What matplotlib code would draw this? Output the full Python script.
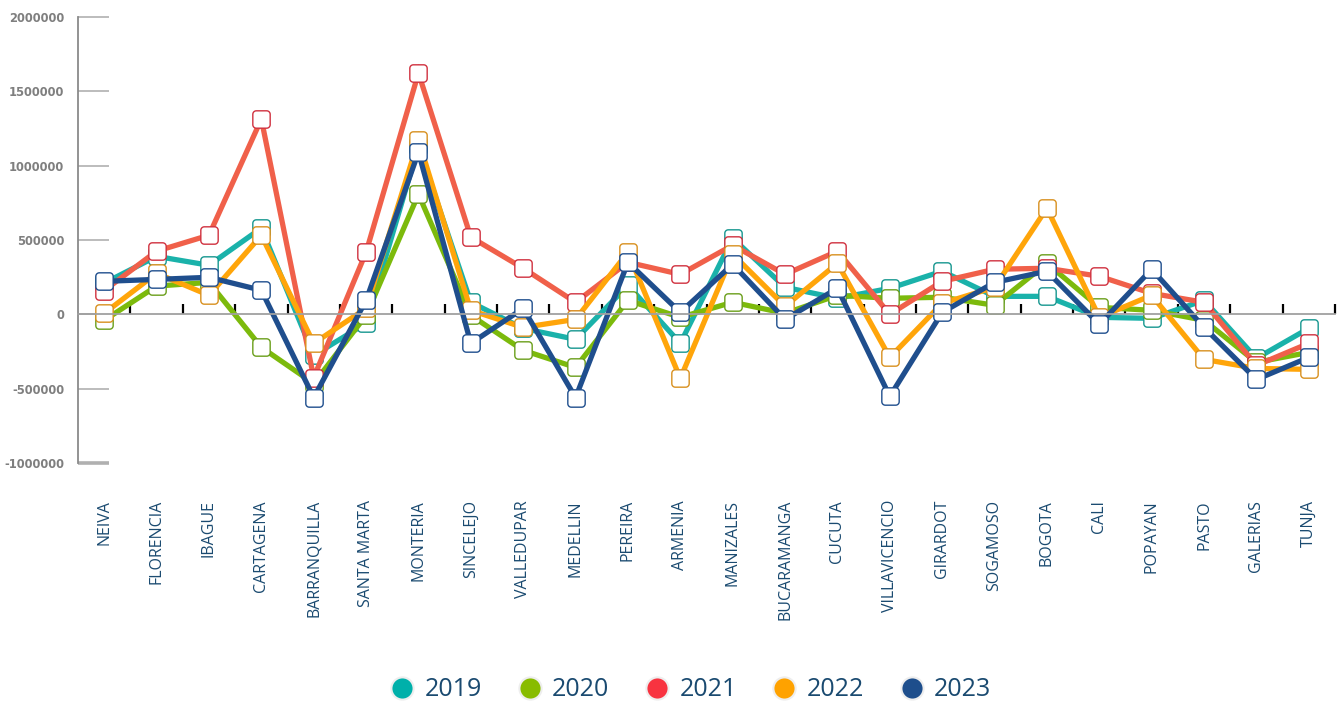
import numpy as np
import matplotlib
matplotlib.use("Agg")
import matplotlib.pyplot as plt
from matplotlib import font_manager
from matplotlib.path import Path
from matplotlib.lines import Line2D
from matplotlib.transforms import blended_transform_factory

ciudades = ["NEIVA", "FLORENCIA", "IBAGUE", "CARTAGENA", "BARRANQUILLA", "SANTA MARTA",
            "MONTERIA", "SINCELEJO", "VALLEDUPAR", "MEDELLIN", "PEREIRA", "ARMENIA",
            "MANIZALES", "BUCARAMANGA", "CUCUTA", "VILLAVICENCIO", "GIRARDOT", "SOGAMOSO",
            "BOGOTA", "CALI", "POPAYAN", "PASTO", "GALERIAS", "TUNJA"]

v2019 = [210000, 390000, 330000, 580000, -276000, -60000, 1130000, 81000, -95000, -168000,
         195000, -195000, 512000, 182000, 108000, 175000, 290000, 121000, 121000, -20000,
         -27000, 94000, -296000, -94000]
v2020 = [-40000, 190000, 215000, -222000, -465000, -7000, 808000, -7000, -242000, -357000,
         94000, -20000, 81000, 7000, 128000, 108000, 115000, 61000, 343000, 47000,
         27000, -40000, -323000, -256000]
v2021 = [160000, 425000, 532000, 1313000, -425000, 418000, 1623000, 519000, 310000, 81000,
         350000, 269000, 465000, 269000, 425000, 0, 222000, 303000, 310000, 256000,
         141000, 81000, -343000, -195000]
v2022 = [7000, 276000, 128000, 532000, -195000, 40000, 1172000, 27000, -88000, -34000,
         418000, -431000, 404000, 54000, 343000, -290000, 74000, 182000, 714000, -20000,
         128000, -303000, -364000, -370000]
v2023 = [222000, 235000, 249000, 162000, -560000, 94000, 1091000, -195000, 40000, -560000,
         350000, 13000, 337000, -34000, 175000, -552000, 13000, 215000, 290000, -67000,
         303000, -88000, -438000, -290000]

anios = ["2019", "2020", "2021", "2022", "2023"]
series = [v2019, v2020, v2021, v2022, v2023]
color_linea = ["#1ab2aa", "#7cba0c", "#f0604a", "#ffa50a", "#1f4e8d"]
color_borde = ["#15968f", "#6a9e1a", "#d0303e", "#d8901e", "#1f4e8d"]
color_leyenda = ["#00b0aa", "#88bc00", "#f83340", "#ffa200", "#1e4e8c"]
azul_texto = "#1a4a70"

# narrow bold face for the y labels, whichever is available
fuentes = {f.name: f for f in font_manager.fontManager.ttflist}
estrechas = [f for f in font_manager.fontManager.ttflist
             if f.name == "DejaVu Sans" and f.stretch in ("condensed", "semi-condensed")]
if "Liberation Sans Narrow" in fuentes:
    fuente_y = dict(family="Liberation Sans Narrow", fontsize=11.5, fontweight="bold")
elif estrechas:
    fuente_y = dict(family="DejaVu Sans", fontstretch="condensed", fontsize=9.2, fontweight="bold")
else:
    fuente_y = dict(family="Roboto", fontsize=9, fontweight="bold")


def cuadro_redondeado(r=0.4, n=8):
    # square marker with rounded corners
    pts = []
    for cx, cy, a0 in [(1 - r, 1 - r, 0), (-1 + r, 1 - r, 90), (-1 + r, -1 + r, 180), (1 - r, -1 + r, 270)]:
        for t in np.radians(np.linspace(a0, a0 + 90, n)):
            pts.append((cx + r * np.cos(t), cy + r * np.sin(t)))
    pts.append(pts[0])
    return Path(pts, closed=True)


marcador = cuadro_redondeado()

fig = plt.figure(figsize=(13.41, 7.04), dpi=100)
ax = fig.add_axes([0.0582, 0.3423, 0.9373, 0.6336])

x = np.arange(len(ciudades))
for vals, cl, cb in zip(series, color_linea, color_borde):
    ax.plot(x, vals, color=cl, lw=3.8, marker=marcador, markersize=12.5,
            markerfacecolor="white", markeredgecolor=cb, markeredgewidth=1.0,
            solid_joinstyle="miter", clip_on=False)

ax.set_xlim(-0.5, len(ciudades) - 0.5)
ax.set_ylim(-1000000, 2000000)

# y axis: inward grey ticks, black at the bottom
ax.set_yticks(np.arange(-1000000, 2000001, 500000))
ax.set_yticklabels([str(v) for v in range(-1000000, 2000001, 500000)],
                   color="#7f7f7f", **fuente_y)
ax.tick_params(axis="y", direction="in", length=22, width=1.2, color="#b0b0b0", pad=10)
t0 = ax.yaxis.get_major_ticks()[0]
t0.tick1line.set_color("black")
t0.tick1line.set_markeredgewidth(2.6)

# x axis sits on zero with black ticks between cities
ax.spines["bottom"].set_position(("data", 0))
ax.spines["bottom"].set_color("#a0a0a0")
ax.spines["bottom"].set_linewidth(1.3)
ax.spines["left"].set_color("#8a8a8a")
ax.spines["left"].set_linewidth(1.3)
ax.spines["top"].set_visible(False)
ax.spines["right"].set_visible(False)
ax.set_xticks(x + 0.5)
ax.set_xticklabels([])
ax.tick_params(axis="x", direction="in", length=7, width=1.6, color="black")

trans = blended_transform_factory(ax.transData, ax.transAxes)
for i, c in enumerate(ciudades):
    ax.text(i, -0.083, c, transform=trans, rotation=90, ha="center", va="top",
            fontsize=11.5, family="Open Sans", color=azul_texto)

handles = [Line2D([], [], ls="none", marker="o", markersize=16, markerfacecolor=c,
                  markeredgecolor="#eeeeee", markeredgewidth=1.5) for c in color_leyenda]
leg = fig.legend(handles, anios, loc="center", bbox_to_anchor=(0.514, 0.02), ncol=5,
                 frameon=False, handletextpad=0.3, columnspacing=1.3, handlelength=1.2,
                 prop={"family": "Open Sans", "size": 18})
for t in leg.get_texts():
    t.set_color(azul_texto)

fig.savefig("out.png", dpi=100)
